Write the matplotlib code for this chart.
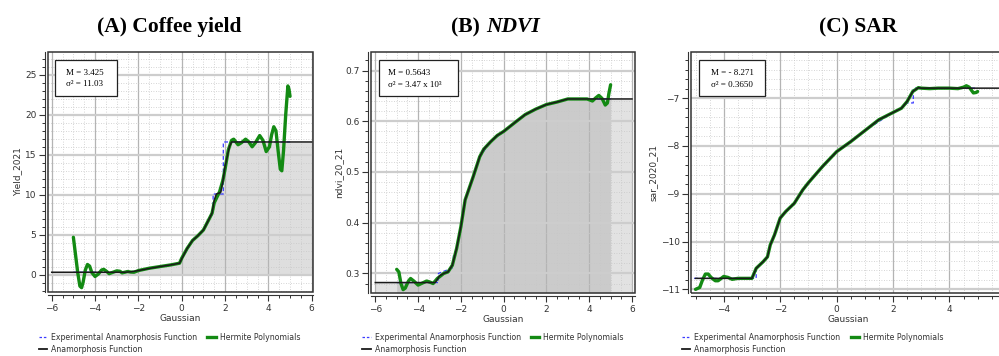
import matplotlib
matplotlib.use("Agg")
import matplotlib.pyplot as plt
from matplotlib.patches import Rectangle
from matplotlib.lines import Line2D
from matplotlib.ticker import MultipleLocator

# ---- (A) Coffee yield ----
a_anam_x = [-6.0, -2.6, -2.3, -2.0, -1.5, -1.0, -0.5, -0.1, 0.0, 0.25, 0.5, 0.75, 1.0, 1.25, 1.4,
            1.5, 1.6, 1.8, 1.9, 2.0, 2.2, 2.3, 6.0]
a_anam_y = [0.33, 0.33, 0.40, 0.54, 0.80, 1.04, 1.25, 1.46, 2.0, 3.3, 4.3, 4.9, 5.6, 6.9, 7.7,
            9.3, 10.1, 10.3, 11.7, 13.5, 16.0, 16.6, 16.6]
a_exp_x = [-5.0, -2.6, -2.3, -2.0, -1.0, -0.1, 0.0, 0.5, 1.0, 1.25, 1.45, 1.45, 1.92, 1.92, 5.0]
a_exp_y = [0.33, 0.33, 0.40, 0.54, 1.04, 1.46, 2.0, 4.3, 5.6, 6.9, 7.7, 10.1, 10.1, 16.6, 16.6]
a_herm_x = [-5.0, -4.9, -4.8, -4.7, -4.62, -4.55, -4.45, -4.35, -4.25, -4.15, -4.0, -3.85, -3.7,
            -3.6, -3.45, -3.35, -3.2, -3.0, -2.85, -2.75, -2.6, -2.5, -2.35, -2.2, -2.0, -1.5,
            -1.0, -0.5, -0.1, 0.0, 0.25, 0.5, 0.75, 1.0, 1.25, 1.4, 1.5, 1.75, 1.9, 2.0, 2.15,
            2.3, 2.4, 2.5, 2.6, 2.75, 2.95, 3.1, 3.25, 3.4, 3.6, 3.75, 3.9, 4.05, 4.15, 4.25,
            4.35, 4.45, 4.55, 4.62, 4.7, 4.8, 4.9, 4.95, 5.0]
a_herm_y = [4.7, 2.5, 0.3, -1.4, -1.6, -0.9, 0.6, 1.3, 1.1, 0.3, -0.2, 0.1, 0.6,
            0.7, 0.4, 0.15, 0.3, 0.5, 0.45, 0.25, 0.35, 0.42, 0.35, 0.33, 0.54, 0.83,
            1.04, 1.25, 1.46, 2.08, 3.3, 4.3, 4.9, 5.6, 6.9, 7.7, 9.0, 10.4, 11.8, 13.2, 15.6,
            16.8, 16.95, 16.6, 16.25, 16.5, 16.95, 16.6, 16.0, 16.5, 17.4, 16.8, 15.4, 16.0, 17.5, 18.5,
            18.0, 15.5, 13.2, 13.0, 15.5, 20.0, 23.6, 23.2, 22.3]

# ---- (B) NDVI ----
b_anam_x = [-6.0, -3.2, -3.0, -2.8, -2.6, -2.4, -2.2, -2.0, -1.8, -1.43, -1.12, -0.93, -0.6,
            -0.3, 0.0, 0.3, 0.6, 1.0, 1.5, 2.0, 2.5, 3.0, 6.0]
b_anam_y = [0.282, 0.282, 0.295, 0.300, 0.303, 0.316, 0.349, 0.392, 0.445, 0.490, 0.530, 0.545,
            0.560, 0.572, 0.580, 0.590, 0.600, 0.613, 0.624, 0.633, 0.638, 0.644, 0.644]
b_exp_x = [-5.0, -3.05, -3.05, -2.45, -2.35, -2.35, -2.2, -2.0, -1.8, -1.43, -1.12, -0.6, 0.0,
           1.0, 2.0, 3.0, 5.0]
b_exp_y = [0.282, 0.282, 0.300, 0.310, 0.312, 0.335, 0.349, 0.392, 0.445, 0.490, 0.530, 0.560,
           0.580, 0.613, 0.633, 0.644, 0.644]
b_herm_x = [-5.0, -4.9, -4.8, -4.7, -4.6, -4.45, -4.35, -4.2, -4.0, -3.8, -3.6, -3.45, -3.3,
            -3.1, -2.8, -2.6, -2.4, -2.2, -2.0, -1.8, -1.43, -1.12, -0.93, -0.6, -0.3, 0.0,
            0.3, 0.6, 1.0, 1.5, 2.0, 2.5, 3.0, 3.9, 4.15, 4.3, 4.45, 4.6, 4.75, 4.85, 4.92, 5.0]
b_herm_y = [0.308, 0.303, 0.280, 0.268, 0.271, 0.285, 0.290, 0.285, 0.277, 0.281, 0.285, 0.283,
            0.280, 0.290, 0.300, 0.303, 0.316, 0.349, 0.392, 0.445, 0.490, 0.530, 0.545, 0.560,
            0.572, 0.580, 0.590, 0.600, 0.613, 0.624, 0.633, 0.638, 0.644, 0.644, 0.640, 0.646,
            0.651, 0.645, 0.632, 0.636, 0.655, 0.672]

# ---- (C) SAR ----
c_anam_x = [-5.0, -3.0, -2.85, -2.6, -2.45, -2.35, -2.2, -2.0, -1.8, -1.5, -1.2, -1.0, -0.5, 0.0,
            0.5, 1.0, 1.5, 2.0, 2.3, 2.5, 2.7, 2.9, 3.0, 6.2]
c_anam_y = [-10.77, -10.77, -10.56, -10.42, -10.32, -10.07, -9.86, -9.51, -9.37, -9.20, -8.92,
            -8.77, -8.43, -8.12, -7.91, -7.68, -7.45, -7.30, -7.21, -7.07, -6.86, -6.78, -6.79, -6.79]
c_exp_x = [-5.05, -2.85, -2.85, -2.6, -2.45, -2.35, -2.2, -2.0, -1.5, -1.0, 0.0, 1.0, 2.0, 2.3,
           2.5, 2.72, 2.72, 5.0]
c_exp_y = [-10.77, -10.77, -10.56, -10.42, -10.32, -10.07, -9.86, -9.51, -9.20, -8.77, -8.12,
           -7.68, -7.30, -7.21, -7.10, -7.10, -6.79, -6.79]
c_herm_x = [-5.0, -4.85, -4.75, -4.65, -4.55, -4.45, -4.3, -4.2, -4.0, -3.85, -3.7, -3.5, -3.0,
            -2.85, -2.6, -2.45, -2.35, -2.2, -2.0, -1.8, -1.5, -1.2, -1.0, -0.5, 0.0, 0.5, 1.0,
            1.5, 2.0, 2.3, 2.5, 2.7, 2.9, 3.0, 3.3, 3.6, 4.0, 4.3, 4.5, 4.6, 4.7, 4.85, 4.95, 5.0]
c_herm_y = [-11.0, -10.96, -10.80, -10.68, -10.68, -10.75, -10.82, -10.82, -10.73, -10.75, -10.79,
            -10.77, -10.77, -10.56, -10.42, -10.32, -10.07, -9.86, -9.51, -9.37, -9.20, -8.92,
            -8.77, -8.43, -8.12, -7.91, -7.68, -7.45, -7.30, -7.21, -7.07, -6.86, -6.78, -6.79,
            -6.80, -6.79, -6.79, -6.80, -6.77, -6.74, -6.77, -6.89, -6.88, -6.86]

ylabels = ["Yield_2021", "ndvi_20_21", "sar_2020_21"]
stats = [["M = 3.425", "σ² = 11.03"],
         ["M = 0.5643", "σ² = 3.47 x 10³"],
         ["M = - 8.271", "σ² = 0.3650"]]
legend_labels = ["Experimental Anamorphosis Function", "Anamorphosis Function", "Hermite Polynomials"]

GREEN = "#138a13"
W, H = 999, 356
fig = plt.figure(figsize=(W / 100, H / 100), dpi=100)

# axes boxes in pixels: left, right, top, bottom
boxes = [(47.7, 312.7, 52.3, 291.7), (371.3, 634.7, 52.3, 292.7), (691.0, 1005.0, 52.3, 292.7)]
xlims = [(-6.185, 6.046), (-6.187, 6.126), (-5.16, 5.97)]
ylims = [(-2.1, 27.8), (0.262, 0.736), (-11.07, -6.04)]
ymaj = [5, 0.1, 1]
ymin = [1, 0.02, 0.2]
stat_boxes = [(0.0275, 0.233, 0.069), (0.029, 0.30, 0.063), (0.026, 0.21, 0.0635)]

panels = [
    (a_anam_x, a_anam_y, a_exp_x, a_exp_y, a_herm_x, a_herm_y),
    (b_anam_x, b_anam_y, b_exp_x, b_exp_y, b_herm_x, b_herm_y),
    (c_anam_x, c_anam_y, c_exp_x, c_exp_y, c_herm_x, c_herm_y),
]

title_kw = dict(fontsize=15.5, fontweight="bold", family="Liberation Serif", va="center")
ty = 1 - 27 / H
fig.text(169 / W, ty, "(A) Coffee yield", ha="center", **title_kw)
fig.text(480 / W, ty, "(B)", ha="right", **title_kw)
fig.text(486 / W, ty, "NDVI", ha="left", style="italic", **title_kw)
fig.text(858 / W, ty, "(C) SAR", ha="center", **title_kw)

for i, (ax_, ay_, ex_, ey_, hx_, hy_) in enumerate(panels):
    l, r, t, b = boxes[i]
    ax = fig.add_axes([l / W, 1 - b / H, (r - l) / W, (b - t) / H])
    ax.set_xlim(*xlims[i])
    ax.set_ylim(*ylims[i])

    # shaded areas under the anamorphosis function
    if i == 0:
        ax.fill_between(ax_, ay_, 0, color="#dedede", lw=0, zorder=0)
    elif i == 1:
        ax.fill_between(ax_, ay_, ylims[1][0], color="#e2e2e2", lw=0, zorder=0)
        bx = [x for x in ax_ if -5.0 <= x <= 5.0]
        by = [y for x, y in zip(ax_, ay_) if -5.0 <= x <= 5.0]
        ax.fill_between([-5.0] + bx + [5.0], [0.282] + by + [0.644], ylims[1][0],
                        color="#cbcbcb", lw=0, zorder=0)

    ax.xaxis.set_major_locator(MultipleLocator(2))
    ax.xaxis.set_minor_locator(MultipleLocator(0.5))
    ax.yaxis.set_major_locator(MultipleLocator(ymaj[i]))
    ax.yaxis.set_minor_locator(MultipleLocator(ymin[i]))
    ax.grid(which="minor", color="#c8c8c8", lw=0.6, ls=(0, (1, 2)), zorder=0.5)
    ax.grid(which="major", axis="x", color="#b4b4b4", lw=0.9, zorder=0.6)
    ax.grid(which="major", axis="y", color="#cdcdcd", lw=1.6, zorder=0.6)
    ax.set_axisbelow(True)

    ax.plot(ex_, ey_, color="#3b3bff", lw=0.9, ls=(0, (3, 2)), zorder=2)
    ax.plot(hx_, hy_, color=GREEN, lw=2.4, zorder=3, solid_capstyle="round")
    ax.plot(ax_, ay_, color="#1a1a1a", lw=1.1, zorder=4)

    for s in ["top", "right"]:
        ax.spines[s].set_visible(False)
    ax.spines["left"].set_position(("outward", 2.2))
    ax.spines["bottom"].set_position(("outward", 2.5))
    ax.spines["left"].set_color("#333333")
    ax.spines["bottom"].set_color("#333333")
    ax.add_patch(Rectangle((0, 0), 1, 1, transform=ax.transAxes, fill=False,
                           ec="#333333", lw=1.1, clip_on=False, zorder=5))

    ax.tick_params(which="major", direction="out", length=4, width=0.8, colors="#333333",
                   labelsize=6.5, pad=2)
    ax.tick_params(which="minor", direction="out", length=2.5, width=0.7, colors="#333333")
    ax.set_xlabel("Gaussian", fontsize=6.5, color="#333333", labelpad=1)
    ax.set_ylabel(ylabels[i], fontsize=6.5, color="#333333", labelpad=2)

    # statistics box
    bl, bw, tl = stat_boxes[i]
    ax.add_patch(Rectangle((bl, 0.968 - 0.150), bw, 0.150, transform=ax.transAxes,
                           fc="white", ec="#222222", lw=0.9, zorder=6))
    ax.text(tl, 0.912, stats[i][0], transform=ax.transAxes, fontsize=6.5,
            family="Liberation Serif", va="center", ha="left", zorder=7)
    ax.text(tl, 0.866, stats[i][1], transform=ax.transAxes, fontsize=6.5,
            family="Liberation Serif", va="center", ha="left", zorder=7)

    # legend
    handles = [Line2D([], [], color="#3b3bff", lw=0.9, ls=(0, (2, 1.5))),
               Line2D([], [], color="#1a1a1a", lw=1.3),
               Line2D([], [], color=GREEN, lw=2.4)]
    fig.legend(handles, legend_labels, ncol=2, frameon=False, fontsize=5.6,
               loc="upper left", bbox_to_anchor=((l - 13) / W, 1 - 329 / H),
               handlelength=1.1, handletextpad=0.5, columnspacing=1.3,
               labelspacing=0.35, borderpad=0, labelcolor="#333333")

fig.savefig("out.png", dpi=100)
